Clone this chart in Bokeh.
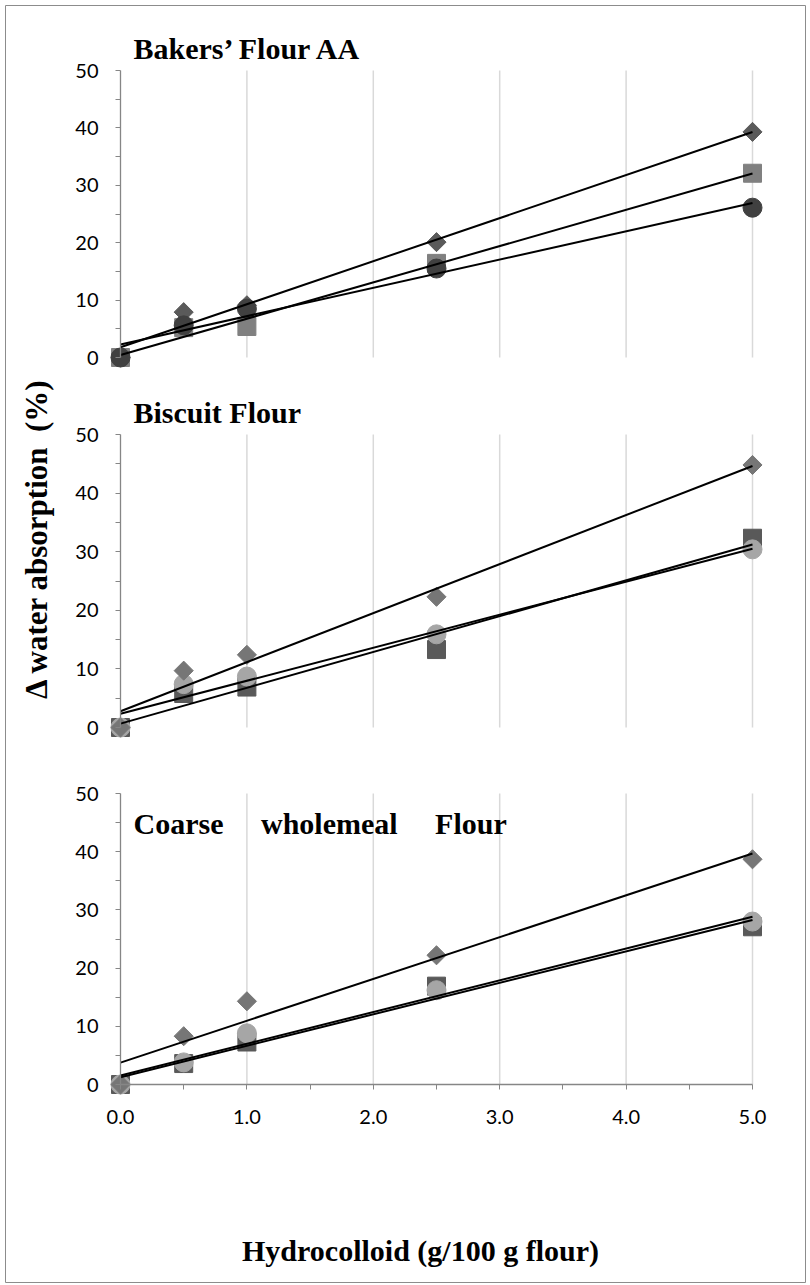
import numpy as np
from bokeh.plotting import figure
from bokeh.models import Range1d, LinearAxis, FixedTicker, NumeralTickFormatter, Label
from bokeh.embed import file_html
from bokeh.resources import INLINE

# Hydrocolloid dose (g/100 g flour)
dose = [0.0, 0.5, 1.0, 2.5, 5.0]

# Δ water absorption (%) for each flour and hydrocolloid
bakers_diamond = [0.0, 7.9, 9.1, 20.1, 39.3]
bakers_square = [0.0, 5.2, 5.4, 16.4, 32.1]
bakers_circle = [0.0, 5.6, 8.5, 15.5, 26.1]

biscuit_diamond = [0.0, 9.7, 12.4, 22.3, 44.8]
biscuit_square = [0.0, 5.8, 6.9, 13.3, 32.3]
biscuit_circle = [0.0, 7.4, 8.7, 15.9, 30.4]

coarse_diamond = [0.0, 8.3, 14.3, 22.2, 38.7]
coarse_square = [0.0, 3.6, 7.3, 16.9, 27.1]
coarse_circle = [0.0, 3.8, 8.8, 16.2, 28.0]

panel_titles = ["Bakers\u2019 Flour AA", "Biscuit Flour",
                "Coarse\u2003 wholemeal\u2003 Flour"]
x_title = "Hydrocolloid (g/100 g flour)"
y_title = "\u0394 water absorption \u00a0(%)"

x_ticks = [0, 1, 2, 3, 4, 5]
x_minor_ticks = [0.5, 1.5, 2.5, 3.5, 4.5]
grid_x = [1, 2, 3, 4, 5]
y_ticks = [0, 10, 20, 30, 40, 50]
y_minor_ticks = [5, 15, 25, 35, 45]

# ---- page geometry (canvas pixels) ----
W, H = 810, 1285
ML, MR, MT, MB = 5, 5, 5, 3
FW, FH = W - ML - MR, H - MT - MB
X0_PX, X5_PX = 120, 752                 # where dose 0 and 5 sit
BANDS = {"top": (70, 357), "mid": (434, 727), "bot": (793, 1084)}  # (y=50, y=0)

kx = (X5_PX - X0_PX) / 5.0
xs = -(X0_PX - ML) / kx
x_range = Range1d(xs, xs + FW / kx)


def band_range(p50, p0):
    k = (p0 - p50) / 50.0
    end = 50 + (p50 - MT) / k
    return Range1d(end - FH / k, end), k


ranges = {}
scales = {}
for name, (p50, p0) in BANDS.items():
    ranges[name], scales[name] = band_range(p50, p0)


def dx(px):
    return x_range.start + (px - ML) / kx


def dy(py):
    r = ranges["bot"]
    return r.end - (py - MT) / scales["bot"]


p = figure(width=W, height=H, x_range=x_range, y_range=ranges["bot"],
           x_axis_type=None, y_axis_type=None,
           toolbar_location=None, output_backend="svg",
           min_border_left=ML, min_border_right=MR,
           min_border_top=MT, min_border_bottom=MB,
           outline_line_color="#8c8c8c", outline_line_width=1,
           background_fill_color="white", border_fill_color="white")
p.extra_y_ranges = {"top": ranges["top"], "mid": ranges["mid"]}

AXIS_GREY = "#868686"
TICK_FONT = "Lato, 'Open Sans', sans-serif"
SERIF = "'Liberation Serif', 'Times New Roman', serif"

panels = [
    ("top", bakers_diamond, bakers_square, bakers_circle,
     ("#5a5a5a", "#808080", "#404040"), ["square", "diamond", "circle"], 48),
    ("mid", biscuit_diamond, biscuit_square, biscuit_circle,
     ("#767676", "#595959", "#a6a6a6"), ["square", "circle", "diamond"], 412),
    ("bot", coarse_diamond, coarse_square, coarse_circle,
     ("#767676", "#595959", "#a6a6a6"), ["square", "circle", "diamond"], 823),
]

for (name, dia, sq, circ, (c_dia, c_sq, c_circ), order, title_py), title in zip(panels, panel_titles):
    rn = {} if name == "bot" else {"y_range_name": name}

    # vertical gridlines from 0 to 50
    p.segment(x0=grid_x, y0=[0] * len(grid_x), x1=grid_x, y1=[50] * len(grid_x),
              line_color="#d9d9d9", line_width=1.5, **rn)

    series = {"diamond": (dia, c_dia), "square": (sq, c_sq), "circle": (circ, c_circ)}
    for kind in order:
        vals, col = series[kind]
        if kind == "diamond":
            p.scatter(dose, vals, marker="square", size=13.5, angle=np.pi / 4,
                      fill_color=col, line_color=col, **rn)
        elif kind == "square":
            p.scatter(dose, vals, marker="square", size=18,
                      fill_color=col, line_color=col, **rn)
        else:
            p.scatter(dose, vals, marker="circle", size=19,
                      fill_color=col, line_color=col, **rn)

    # linear trend lines
    for vals in (dia, sq, circ):
        slope, icpt = np.polyfit(dose, vals, 1)
        xe = [dose[0], dose[-1]]
        p.line(xe, [icpt + slope * v for v in xe], line_color="black",
               line_width=2, **rn)

    yax = LinearAxis(fixed_location=0, bounds=(0, 50),
                     ticker=FixedTicker(ticks=y_ticks, minor_ticks=y_minor_ticks),
                     axis_line_color=AXIS_GREY, axis_line_width=1.3,
                     major_tick_line_color=AXIS_GREY, minor_tick_line_color=AXIS_GREY,
                     major_tick_in=0, major_tick_out=5, minor_tick_in=0, minor_tick_out=5,
                     major_label_standoff=17,
                     major_label_text_font=TICK_FONT,
                     major_label_text_font_size="20px",
                     major_label_text_color="black", **rn)
    p.add_layout(yax, "left")

    p.add_layout(Label(x=dx(133), y=dy(title_py), text=title,
                       text_font=SERIF, text_font_style="bold",
                       text_font_size="30px", text_color="black",
                       text_align="left", text_baseline="middle"))

xax = LinearAxis(fixed_location=0, bounds=(0, 5),
                 ticker=FixedTicker(ticks=x_ticks, minor_ticks=x_minor_ticks),
                 formatter=NumeralTickFormatter(format="0.0"),
                 axis_line_color=AXIS_GREY, axis_line_width=1.3,
                 major_tick_line_color=AXIS_GREY, minor_tick_line_color=AXIS_GREY,
                 major_tick_in=0, major_tick_out=5, minor_tick_in=0, minor_tick_out=5,
                 major_label_standoff=20,
                 major_label_text_font=TICK_FONT,
                 major_label_text_font_size="20px",
                 major_label_text_color="black")
p.add_layout(xax, "below")

p.add_layout(Label(x=dx(420), y=dy(1250), text=x_title,
                   text_font=SERIF, text_font_style="bold",
                   text_font_size="30px", text_color="black",
                   text_align="center", text_baseline="middle"))
p.add_layout(Label(x=dx(36), y=dy(538), text=y_title, angle=np.pi / 2,
                   text_font=SERIF, text_font_style="bold",
                   text_font_size="31px", text_color="black",
                   text_align="center", text_baseline="middle"))

open("out.html", "w").write(file_html(p, INLINE))
